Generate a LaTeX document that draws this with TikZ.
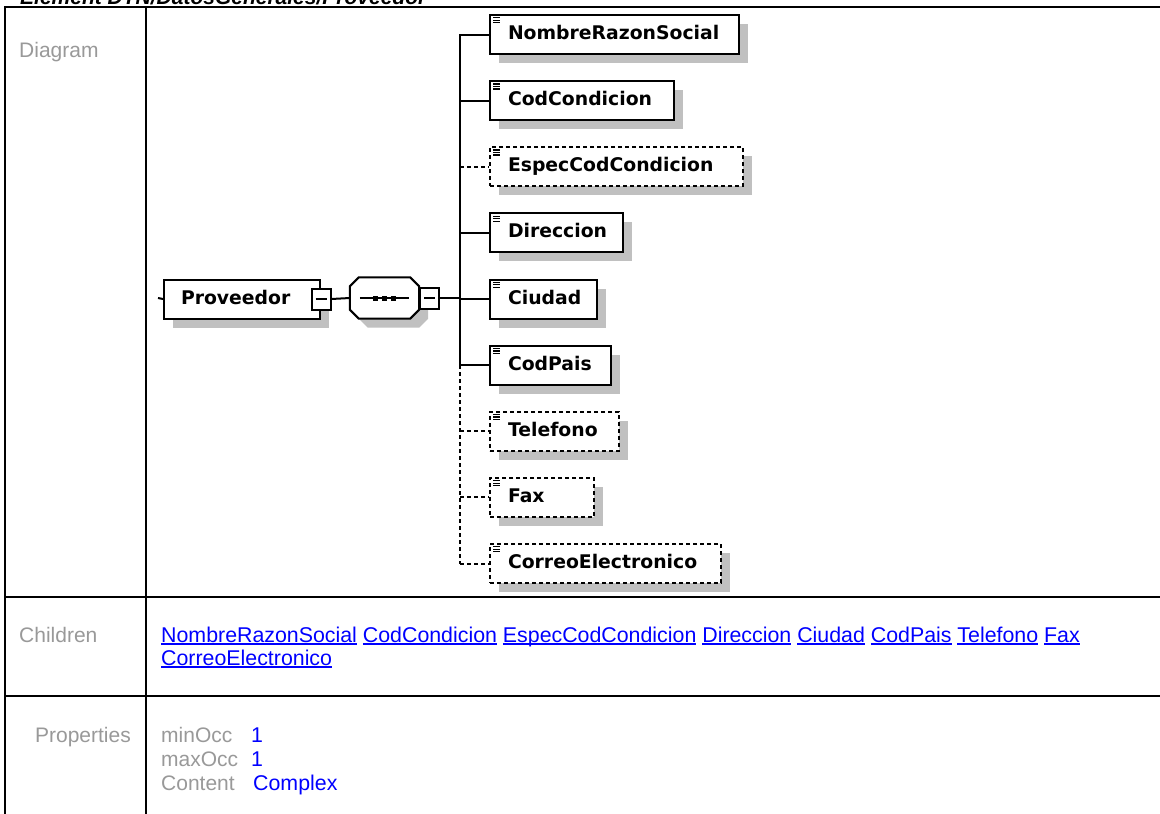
\documentclass[tikz,border=0pt]{standalone}
\usepackage{fontspec}
\setmainfont{Liberation Sans}
\newfontfamily\diafont{DejaVu Sans}
\usetikzlibrary{calc}
\definecolor{lblgray}{HTML}{999999}
\definecolor{lnkblue}{HTML}{0000FF}
\definecolor{shadowgray}{HTML}{C0C0C0}
\newsavebox\lnkbox
\newcommand\lnk[1]{\sbox\lnkbox{#1}\rlap{\rule[-2.8pt]{\wd\lnkbox}{1.4pt}}\usebox\lnkbox}
\tikzset{
  tbl/.style={line width=2.2pt, black},
  lbltext/.style={font=\fontsize{21}{25}\selectfont, text=lblgray, inner sep=0pt},
  keytext/.style={font=\fontsize{21}{25}\selectfont, text=lblgray, inner sep=0pt, anchor=base west},
  valtext/.style={font=\fontsize{21.35}{25}\selectfont, text=lnkblue, inner sep=0pt, anchor=base west},
  shadowed/.style={preaction={fill=shadowgray, draw=none, transform canvas={shift={(9pt,-9pt)}}}},
  elembox/.style={draw, line width=2pt, fill=white, shadowed, anchor=north west,
    inner xsep=18pt, inner ysep=10.5pt, text height=14pt, text depth=4pt, align=left,
    font=\diafont\bfseries\fontsize{18.8}{22}\selectfont,
    path picture={\foreach \k in {2.8,5.3,7.8}
      \draw[line width=1.2pt, solid] ([shift={(3pt,-\k pt)}]path picture bounding box.north west) -- ++(7pt,0pt);}},
  optbox/.style={elembox, dash pattern=on 4pt off 3pt},
  rootbox/.style={draw, line width=2pt, fill=white, shadowed, anchor=north west,
    inner xsep=17pt, inner ysep=10.5pt, text height=14pt, text depth=4pt, align=left,
    font=\diafont\bfseries\fontsize{18.8}{22}\selectfont},
  conn/.style={line width=2pt},
  optconn/.style={conn, dash pattern=on 4pt off 3pt},
  minusbox/.style={draw, line width=2pt, fill=white, minimum width=19pt, minimum height=21pt, inner sep=0pt,
    path picture={\draw[line width=1.6pt] ([xshift=4pt]path picture bounding box.west) -- ([xshift=-4pt]path picture bounding box.east);}},
  seqanchor/.style={minimum width=69pt, minimum height=41pt, inner sep=0pt, draw=none},
}
\begin{document}
\begin{tikzpicture}[x=1pt,y=-1pt]
\useasboundingbox (0,0) rectangle (1160,814);
\clip (0,0) rectangle (1160,814);
\fill[white] (0,0) rectangle (1160,814);

% title (cut off at the top, as in the reference)
\node[font=\bfseries\itshape\fontsize{21}{25}\selectfont, anchor=base west, inner sep=0pt] (title) at (20,4) {Element DTN/DatosGenerales/Proveedor};

% table
\draw[tbl] (5,814) -- (5,7) -- (1160,7);
\draw[tbl] (146,7) -- (146,814);
\draw[tbl] (5,597) -- (1160,597);
\draw[tbl] (5,696) -- (1160,696);

% labels
\node[lbltext, anchor=base west] (lbldiag) at (19,57) {Diagram};
\node[lbltext, anchor=base west] (lblchild) at (19,642) {Children};
\node[lbltext, anchor=base east] (lblprop) at (131,742) {Properties};

% children links
\node[valtext] (ch1) at (161,642) {\lnk{NombreRazonSocial} \lnk{CodCondicion} \lnk{EspecCodCondicion} \lnk{Direccion} \lnk{Ciudad} \lnk{CodPais} \lnk{Telefono} \lnk{Fax}};
\node[valtext] (ch2) at (161,665) {\lnk{CorreoElectronico}};

% properties
\node[keytext] (kmin) at (161,742) {minOcc};
\node[keytext] (kmax) at (161,766) {maxOcc};
\node[keytext] (kcon) at (161,790) {Content};
\node[valtext] (vmin) at (251,742) {1};
\node[valtext] (vmax) at (251,766) {1};
\node[valtext] (vcon) at (253,790) {Complex};

% diagram: root element
\node[rootbox, text width=122pt] (prov) at (163,278.5) {Proveedor};
\coordinate (provin) at (158,298);
\draw[conn] (provin) -- (prov.west);
\node[minusbox] (provminus) at (prov.east) {};

% sequence compositor
\node[seqanchor] (seq) at (384.5,298) {};
\fill[shadowgray, transform canvas={shift={(9pt,-9pt)}}]
  ($(seq.north west)+(9,0)$) -- ($(seq.north east)+(-9,0)$) -- ($(seq.north east)+(0,9)$) -- ($(seq.south east)+(0,-9)$) -- ($(seq.south east)+(-9,0)$) -- ($(seq.south west)+(9,0)$) -- ($(seq.south west)+(0,-9)$) -- ($(seq.north west)+(0,9)$) -- cycle;
\draw[conn, fill=white]
  ($(seq.north west)+(9,0)$) -- ($(seq.north east)+(-9,0)$) -- ($(seq.north east)+(0,9)$) -- ($(seq.south east)+(0,-9)$) -- ($(seq.south east)+(-9,0)$) -- ($(seq.south west)+(9,0)$) -- ($(seq.south west)+(0,-9)$) -- ($(seq.north west)+(0,9)$) -- cycle;
\draw[conn] ($(seq.west)+(10,0)$) -- ($(seq.east)+(-10,0)$);
\fill ($(seq.center)+(-11.5,-2.5)$) rectangle ++(5,5);
\fill ($(seq.center)+(-2.5,-2.5)$) rectangle ++(5,5);
\fill ($(seq.center)+(6.5,-2.5)$) rectangle ++(5,5);
\node[minusbox, anchor=west] (seqminus) at (seq.east) {};
\draw[conn] (provminus.east) -- (seq.west);

% children elements
\node[elembox, text width=213pt] (nrs) at (489,14) {NombreRazonSocial};
\node[elembox, text width=148pt] (cc)  at (489,80.125) {CodCondicion};
\node[optbox,  text width=217pt] (ecc) at (489,146.25) {EspecCodCondicion};
\node[elembox, text width=97pt]  (dir) at (489,212.375) {Direccion};
\node[elembox, text width=71pt]  (ciu) at (489,278.5) {Ciudad};
\node[elembox, text width=85pt]  (cp)  at (489,344.625) {CodPais};
\node[optbox,  text width=93pt]  (tel) at (489,410.75) {Telefono};
\node[optbox,  text width=68pt]  (fax) at (489,476.875) {Fax};
\node[optbox,  text width=195pt] (ce)  at (489,543) {CorreoElectronico};

% connectors
\coordinate (bus) at (460,298);
\draw[conn] (seqminus.east) -- (bus);
\draw[conn] (nrs.west) -- (nrs.west -| bus) -- (cp.west -| bus);
\draw[optconn] (cp.west -| bus) -- (ce.west -| bus);
\draw[conn] (cc.west -| bus) -- (cc.west);
\draw[optconn] (ecc.west -| bus) -- (ecc.west);
\draw[conn] (dir.west -| bus) -- (dir.west);
\draw[conn] (ciu.west -| bus) -- (ciu.west);
\draw[conn] (cp.west -| bus) -- (cp.west);
\draw[optconn] (tel.west -| bus) -- (tel.west);
\draw[optconn] (fax.west -| bus) -- (fax.west);
\draw[optconn] (ce.west -| bus) -- (ce.west);
\end{tikzpicture}
\end{document}
